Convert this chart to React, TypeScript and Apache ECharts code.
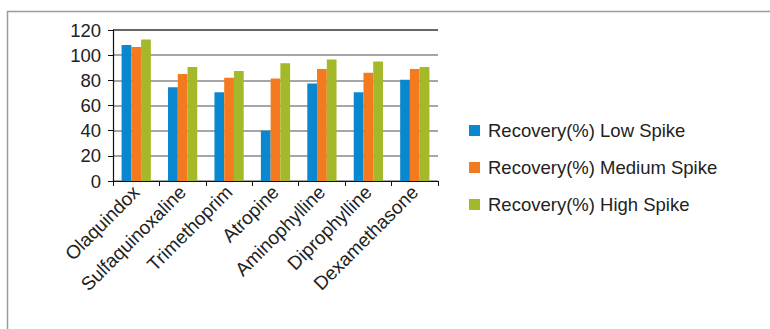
import React, { useEffect, useRef } from "react";
import * as echarts from "echarts";

const categories = [
  "Olaquindox",
  "Sulfaquinoxaline",
  "Trimethoprim",
  "Atropine",
  "Aminophylline",
  "Diprophylline",
  "Dexamethasone",
];
const lowSpike = [108, 74.5, 70.5, 40, 77.5, 70.5, 80.5];
const mediumSpike = [106.5, 85, 82, 81.5, 89, 86, 89];
const highSpike = [112.5, 90.5, 87.5, 93.5, 96.5, 95, 90.5];
const seriesNames = [
  "Recovery(%) Low Spike",
  "Recovery(%) Medium Spike",
  "Recovery(%) High Spike",
];
const colors = ["#0a88cf", "#f47a20", "#a4b82a"];

const FONT = "'Liberation Sans', Arial, sans-serif";

export default function App() {
  const ref = useRef<HTMLDivElement>(null);

  useEffect(() => {
    if (!ref.current) return;
    const chart = echarts.init(ref.current, undefined, { renderer: "svg" });
    const values = [lowSpike, mediumSpike, highSpike];
    chart.setOption({
      animation: false,
      backgroundColor: "#ffffff",
      textStyle: { fontFamily: FONT },
      grid: { left: 113, top: 30, width: 325, height: 151, containLabel: false },
      legend: {
        orient: "vertical",
        left: 469,
        top: 121,
        padding: 0,
        icon: "rect",
        itemWidth: 11,
        itemHeight: 11,
        itemGap: 18,
        textStyle: { fontFamily: FONT, fontSize: 18.5, color: "#222", padding: [0, 0, 0, 3] },
        data: seriesNames,
      },
      xAxis: {
        type: "category",
        data: categories,
        axisLine: { lineStyle: { color: "#111", width: 1.2 } },
        axisTick: { show: true, length: 5, lineStyle: { color: "#111" } },
        axisLabel: {
          rotate: 45,
          interval: 0,
          margin: 8,
          fontFamily: FONT,
          fontSize: 19,
          color: "#222",
        },
      },
      yAxis: {
        type: "value",
        min: 0,
        max: 120,
        interval: 20,
        axisLine: { show: true, lineStyle: { color: "#111", width: 1.2 } },
        axisTick: { show: true, length: 5, lineStyle: { color: "#111" } },
        axisLabel: { margin: 12, fontFamily: FONT, fontSize: 18.5, color: "#222" },
        splitLine: {
          lineStyle: {
            color: ["#888", "#888", "#888", "#888", "#888", "#888", "#333"],
            width: 1.5,
          },
        },
      },
      graphic: [
        {
          type: "line",
          shape: { x1: 7.5, y1: 11, x2: 7.5, y2: 329 },
          style: { stroke: "#9a9a9a", lineWidth: 1.5 },
        },
        {
          type: "line",
          shape: { x1: 7, y1: 11.5, x2: 770, y2: 11.5 },
          style: { stroke: "#9a9a9a", lineWidth: 1.5 },
        },
      ],
      series: seriesNames.map((name, i) => ({
        name,
        type: "bar",
        data: values[i],
        barGap: "0%",
        barCategoryGap: "37%",
        itemStyle: { color: colors[i] },
      })),
    });
    return () => chart.dispose();
  }, []);

  return (
    <div
      ref={ref}
      style={{ position: "fixed", left: 0, top: 0, width: 770, height: 329 }}
    />
  );
}
